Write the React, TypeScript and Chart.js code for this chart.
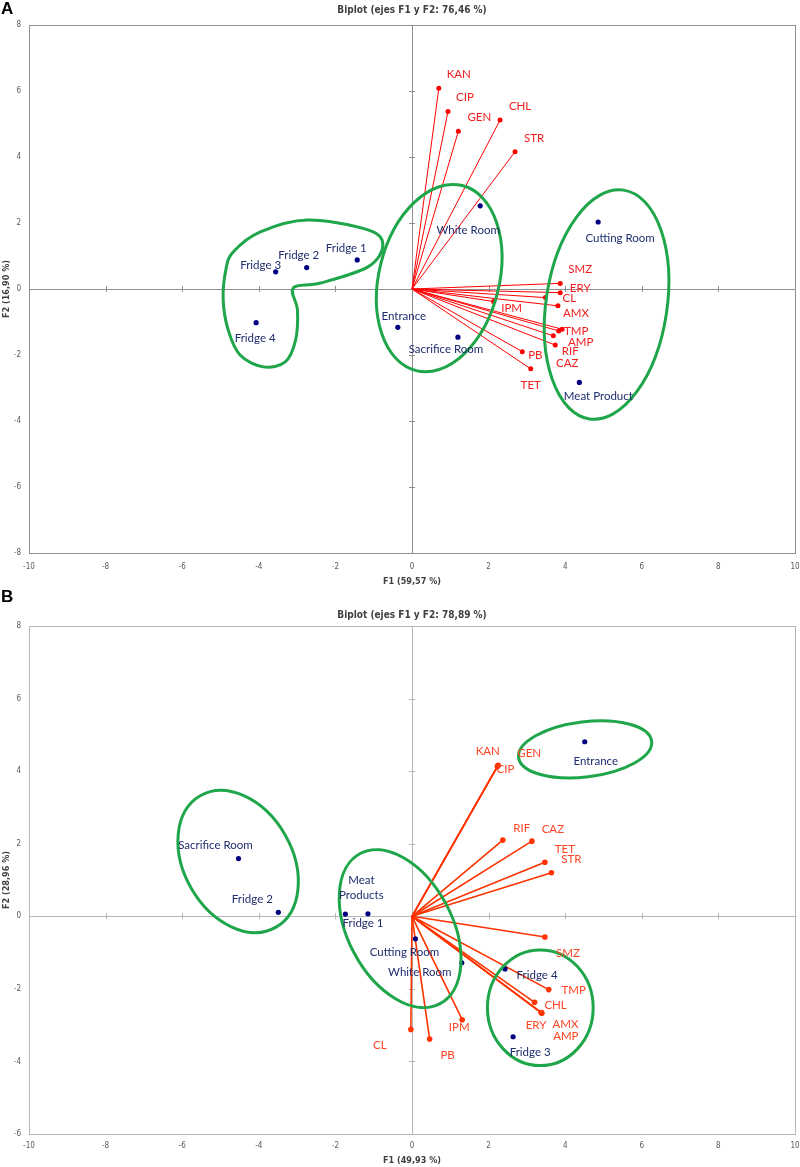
import React, { useEffect, useRef } from "react";
import { Chart, registerables } from "chart.js";

Chart.register(...registerables);

// ---------------- Panel A data ----------------
const varNamesA = ["KAN", "CIP", "GEN", "CHL", "STR", "SMZ", "ERY", "CL", "AMX", "TMP", "AMP", "RIF", "CAZ", "PB", "TET", "IPM"];
const varXA = [0.7, 0.94, 1.21, 2.3, 2.69, 3.87, 3.87, 3.48, 3.81, 3.92, 3.83, 3.69, 3.74, 2.88, 3.1, 2.13];
const varYA = [6.08, 5.38, 4.78, 5.12, 4.16, 0.17, -0.11, -0.26, -0.51, -1.22, -1.27, -1.42, -1.7, -1.9, -2.42, -0.38];
const obsNamesA = ["White Room", "Cutting Room", "Meat Product", "Sacrifice Room", "Entrance", "Fridge 1", "Fridge 2", "Fridge 3", "Fridge 4"];
const obsXA = [1.78, 4.86, 4.37, 1.2, -0.37, -1.43, -2.75, -3.56, -4.07];
const obsYA = [2.52, 2.03, -2.83, -1.46, -1.16, 0.88, 0.65, 0.52, -1.02];

// ---------------- Panel B data ----------------
const varNamesB = ["KAN", "CIP", "GEN", "RIF", "CAZ", "TET", "STR", "SMZ", "TMP", "CHL", "AMX", "AMP", "ERY", "IPM", "PB", "CL"];
const varXB = [2.24, 2.23, 2.25, 2.37, 3.13, 3.47, 3.64, 3.47, 3.57, 3.2, 3.38, 3.39, 3.37, 1.31, 0.46, -0.03];
const varYB = [4.15, 4.13, 4.16, 2.1, 2.07, 1.49, 1.2, -0.57, -2.02, -2.37, -2.66, -2.67, -2.65, -2.85, -3.38, -3.12];
const obsNamesB = ["Entrance", "Sacrifice Room", "Fridge 2", "Meat\nProducts", "Fridge 1", "Cutting Room", "White Room", "Fridge 4", "Fridge 3"];
const obsXB = [4.51, -4.53, -3.49, -1.74, -1.15, 0.09, 1.3, 2.43, 2.64];
const obsYB = [4.81, 1.59, 0.11, 0.06, 0.07, -0.62, -1.28, -1.45, -3.32];

// ---------------- label placement (pixel offsets from the point) ----------------
const varOffA = [[20, -14], [17, -14], [21, -14], [20, -14], [19, -13], [20, -14], [20, -4], [24, 1], [18, 7], [14, 2], [22, 11], [17, 15], [12, 18], [13, 4], [0, 16], [18, 7]];
const obsOffA = [[-12, 24], [22, 16], [19, 14], [-12, 12], [6, -11], [-11, -12], [-8, -12], [-15, -7], [-1, 16]];
const varOffB = [[-10, -14], [8, 3], [31, -12], [19, -12], [21, -12], [20, -13], [20, -13], [23, 16], [25, 1], [21, 3], [24, 11], [24, 23], [-5, 13], [-3, 8], [18, 16], [-31, 16]];
const obsOffB = [[11, 20], [-23, -13], [-26, -13], [16, -26], [-5, 10], [-11, 14], [-42, 10], [32, 6], [17, 16]];

// ---------------- group outlines (centre in data units, radii in x-units, rotation deg) ----------------
type Ell = { cx: number; cy: number; rx: number; ry: number; rot: number };
const ellipsesA: Ell[] = [
  { cx: 0.71, cy: 0.33, rx: 1.57, ry: 2.49, rot: 14 },
  { cx: 5.08, cy: -0.47, rx: 1.58, ry: 3.02, rot: 8.5 },
];
const blobA: number[][] = [
  [-4.67, 1.12], [-3.96, 1.73], [-2.73, 2.09], [-1.15, 1.79], [-0.76, 1.33], [-1.15, 0.67],
  [-2.39, 0.18], [-3.1, 0.03], [-2.99, -0.64], [-3.04, -1.55], [-3.31, -2.21], [-3.88, -2.36],
  [-4.49, -2.0], [-4.8, -1.24], [-4.93, -0.33], [-4.86, 0.58],
];
const ellipsesB: Ell[] = [
  { cx: 4.52, cy: 4.6, rx: 1.75, ry: 0.72, rot: -7 },
  { cx: -4.54, cy: 1.51, rx: 1.41, ry: 1.98, rot: -30 },
  { cx: -0.31, cy: -0.34, rx: 1.36, ry: 2.22, rot: -28 },
  { cx: 3.35, cy: -2.52, rx: 1.38, ry: 1.51, rot: 0 },
];

const NARROW = '"Liberation Sans Narrow", "DejaVu Sans Condensed", "Liberation Sans", sans-serif';
const LABEL_FONT = "Lato, 'Open Sans', sans-serif";

type Panel = {
  title: string;
  xTitle: string;
  yTitle: string;
  yMin: number;
  yMax: number;
  varNames: string[];
  varX: number[];
  varY: number[];
  varOff: number[][];
  obsNames: string[];
  obsX: number[];
  obsY: number[];
  obsOff: number[][];
  ellipses: Ell[];
  blob: number[][] | null;
  height: number;
  titlePad: { top: number; bottom: number };
  xHeight: number;
  xTickPad: number;
  xTitlePadBottom: number;
  axisColor: string;
  vecColor: string;
  vecLabelColor: string;
  vecWidth: number;
  vecRadius: number;
};

const panelA: Panel = {
  title: "Biplot (ejes F1 y F2: 76,46 %)",
  xTitle: "F1 (59,57 %)",
  yTitle: "F2 (16,90 %)",
  yMin: -8,
  yMax: 8,
  varNames: varNamesA,
  varX: varXA,
  varY: varYA,
  varOff: varOffA,
  obsNames: obsNamesA,
  obsX: obsXA,
  obsY: obsYA,
  obsOff: obsOffA,
  ellipses: ellipsesA,
  blob: blobA,
  height: 588,
  titlePad: { top: 4, bottom: 9 },
  xHeight: 35,
  xTickPad: 9,
  xTitlePadBottom: 0,
  axisColor: "#8f8f8f",
  vecColor: "#ff0000",
  vecLabelColor: "#f21d1d",
  vecWidth: 1,
  vecRadius: 2.5,
};

const panelB: Panel = {
  title: "Biplot (ejes F1 y F2: 78,89 %)",
  xTitle: "F1 (49,93 %)",
  yTitle: "F2 (28,96 %)",
  yMin: -6,
  yMax: 8,
  varNames: varNamesB,
  varX: varXB,
  varY: varYB,
  varOff: varOffB,
  obsNames: obsNamesB,
  obsX: obsXB,
  obsY: obsYB,
  obsOff: obsOffB,
  ellipses: ellipsesB,
  blob: null,
  height: 579,
  titlePad: { top: 21, bottom: 5 },
  xHeight: 33,
  xTickPad: 7,
  xTitlePadBottom: 0,
  axisColor: "#b5b5b5",
  vecColor: "#ff3300",
  vecLabelColor: "#ff4422",
  vecWidth: 1.6,
  vecRadius: 2.8,
};

function makeConfig(p: Panel): any {
  const datasets: any[] = p.varNames.map((n, i) => ({
    label: n,
    data: [
      { x: 0, y: 0 },
      { x: p.varX[i], y: p.varY[i] },
    ],
    showLine: true,
    borderColor: p.vecColor,
    borderWidth: p.vecWidth,
    backgroundColor: p.vecColor,
    pointRadius: [0, p.vecRadius],
    pointBorderWidth: 0,
    order: 2,
  }));
  datasets.push({
    label: "obs",
    data: p.obsX.map((x, i) => ({ x, y: p.obsY[i] })),
    showLine: false,
    backgroundColor: "#000080",
    borderWidth: 0,
    pointRadius: 2.6,
    order: 1,
  });

  const decor = {
    id: "biplotDecor",
    beforeDatasetsDraw(chart: any) {
      const { ctx, chartArea: a, scales } = chart;
      const xs = scales.x;
      const ys = scales.y;
      const x0 = xs.getPixelForValue(0);
      const y0 = ys.getPixelForValue(0);
      ctx.save();
      ctx.strokeStyle = p.axisColor;
      ctx.lineWidth = 1;
      ctx.strokeRect(Math.round(a.left) + 0.5, Math.round(a.top) + 0.5, Math.round(a.right - a.left), Math.round(a.bottom - a.top));
      ctx.beginPath();
      ctx.moveTo(Math.round(x0) + 0.5, a.top);
      ctx.lineTo(Math.round(x0) + 0.5, a.bottom);
      ctx.moveTo(a.left, Math.round(y0) + 0.5);
      ctx.lineTo(a.right, Math.round(y0) + 0.5);
      for (let v = -10; v <= 10; v += 2) {
        if (v === 0) continue;
        const px = Math.round(xs.getPixelForValue(v)) + 0.5;
        ctx.moveTo(px, y0 - 3);
        ctx.lineTo(px, y0 + 3);
      }
      for (let v = p.yMin; v <= p.yMax; v += 2) {
        if (v === 0) continue;
        const py = Math.round(ys.getPixelForValue(v)) + 0.5;
        ctx.moveTo(x0 - 3, py);
        ctx.lineTo(x0 + 3, py);
      }
      ctx.stroke();
      ctx.restore();
    },
    afterDatasetsDraw(chart: any) {
      const { ctx, scales } = chart;
      const xs = scales.x;
      const ys = scales.y;
      const ux = Math.abs(xs.getPixelForValue(1) - xs.getPixelForValue(0));
      ctx.save();
      ctx.strokeStyle = "#1fa64a";
      ctx.lineWidth = 3;
      for (const e of p.ellipses) {
        ctx.save();
        ctx.translate(xs.getPixelForValue(e.cx), ys.getPixelForValue(e.cy));
        ctx.rotate((e.rot * Math.PI) / 180);
        ctx.beginPath();
        ctx.ellipse(0, 0, e.rx * ux, e.ry * ux, 0, 0, Math.PI * 2);
        ctx.stroke();
        ctx.restore();
      }
      if (p.blob) {
        const pts = p.blob.map(([x, y]) => [xs.getPixelForValue(x), ys.getPixelForValue(y)]);
        const n = pts.length;
        ctx.beginPath();
        ctx.moveTo(pts[0][0], pts[0][1]);
        for (let i = 0; i < n; i++) {
          const p0 = pts[(i - 1 + n) % n];
          const p1 = pts[i];
          const p2 = pts[(i + 1) % n];
          const p3 = pts[(i + 2) % n];
          ctx.bezierCurveTo(
            p1[0] + (p2[0] - p0[0]) / 6,
            p1[1] + (p2[1] - p0[1]) / 6,
            p2[0] - (p3[0] - p1[0]) / 6,
            p2[1] - (p3[1] - p1[1]) / 6,
            p2[0],
            p2[1]
          );
        }
        ctx.closePath();
        ctx.stroke();
      }
      ctx.restore();

      ctx.save();
      ctx.textAlign = "center";
      ctx.textBaseline = "middle";
      ctx.font = `11.5px ${LABEL_FONT}`;
      ctx.fillStyle = p.vecLabelColor;
      p.varNames.forEach((n, i) => {
        const el = chart.getDatasetMeta(i).data[1];
        ctx.fillText(n, el.x + p.varOff[i][0], el.y + p.varOff[i][1]);
      });
      ctx.fillStyle = "#1f2d6e";
      const obsMeta = chart.getDatasetMeta(p.varNames.length);
      p.obsNames.forEach((n, i) => {
        const el = obsMeta.data[i];
        const lines = n.split("\n");
        const lh = 15;
        lines.forEach((ln, k) => {
          const dy = (k - (lines.length - 1) / 2) * lh;
          ctx.fillText(ln, el.x + p.obsOff[i][0], el.y + p.obsOff[i][1] + dy);
        });
      });
      ctx.restore();
    },
  };

  return {
    type: "scatter",
    data: { datasets },
    plugins: [decor],
    options: {
      animation: false,
      responsive: false,
      devicePixelRatio: 1,
      layout: { padding: { left: 0, right: 5, top: 0, bottom: 0 } },
      plugins: {
        legend: { display: false },
        tooltip: { enabled: false },
        title: {
          display: true,
          text: p.title,
          fullSize: false,
          color: "#404040",
          font: { family: NARROW, size: 10, weight: "bold", lineHeight: 1.2 },
          padding: p.titlePad,
        },
      },
      scales: {
        x: {
          type: "linear",
          min: -10,
          max: 10,
          grid: { display: false, drawTicks: false },
          border: { display: false },
          ticks: { stepSize: 2, color: "#595959", font: { family: NARROW, size: 8 }, padding: p.xTickPad },
          title: {
            display: true,
            text: p.xTitle,
            color: "#404040",
            font: { family: NARROW, size: 9, weight: "bold", lineHeight: 1.3 },
            padding: { top: 0, bottom: p.xTitlePadBottom },
          },
          afterFit: (s: any) => {
            s.height = p.xHeight;
            s.paddingLeft = 0;
            s.paddingRight = 0;
          },
        },
        y: {
          type: "linear",
          min: p.yMin,
          max: p.yMax,
          grid: { display: false, drawTicks: false },
          border: { display: false },
          ticks: { stepSize: 2, color: "#595959", font: { family: NARROW, size: 8 }, padding: 8 },
          title: {
            display: true,
            text: p.yTitle,
            color: "#404040",
            font: { family: NARROW, size: 9, weight: "bold", lineHeight: 1.2 },
            padding: { top: 1, bottom: 0 },
          },
          afterFit: (s: any) => {
            s.width = 29;
            s.paddingTop = 0;
            s.paddingBottom = 0;
          },
        },
      },
    },
  };
}

function BiplotPanel({ panel, letter }: { panel: Panel; letter: string }) {
  const ref = useRef<HTMLCanvasElement | null>(null);
  useEffect(() => {
    if (!ref.current) return;
    const chart = new Chart(ref.current, makeConfig(panel));
    return () => chart.destroy();
  }, [panel]);
  return (
    <div style={{ position: "relative", width: 800, height: panel.height }}>
      <canvas ref={ref} width={800} height={panel.height} style={{ display: "block" }} />
      <div
        style={{
          position: "absolute",
          left: 1,
          top: 0,
          fontFamily: '"Liberation Sans", Arial, sans-serif',
          fontWeight: "bold",
          fontSize: 17,
          lineHeight: "17px",
          color: "#000",
        }}
      >
        {letter}
      </div>
    </div>
  );
}

export default function App() {
  useEffect(() => {
    document.body.style.margin = "0";
  }, []);
  return (
    <div style={{ width: 800, background: "#fff" }}>
      <BiplotPanel panel={panelA} letter="A" />
      <BiplotPanel panel={panelB} letter="B" />
    </div>
  );
}
